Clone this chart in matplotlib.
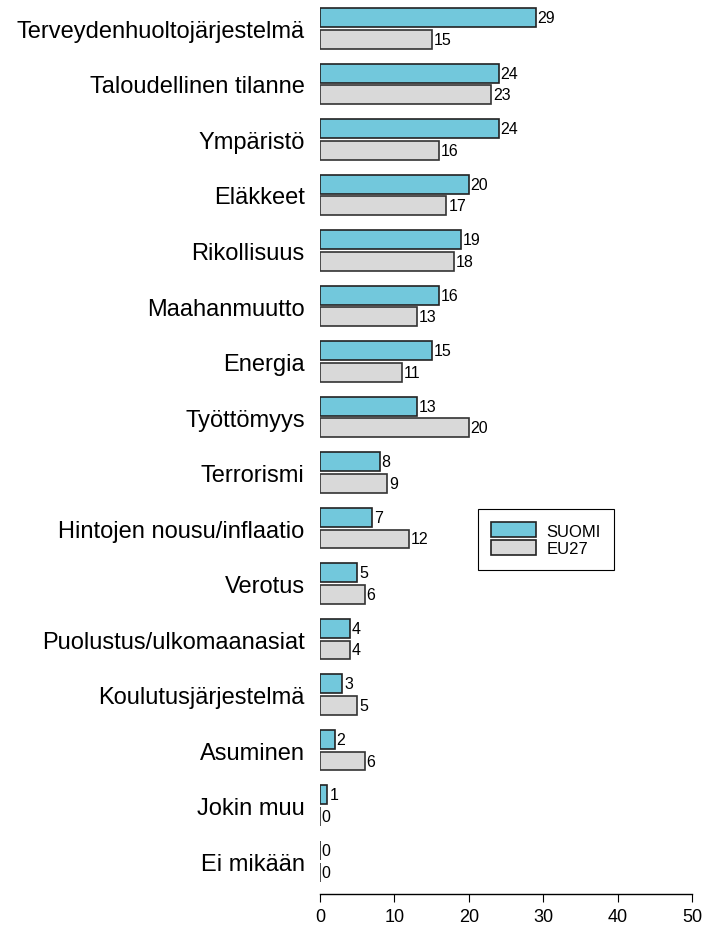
import matplotlib.pyplot as plt
import numpy as np

plt.rcParams["font.family"] = ["Liberation Sans", "DejaVu Sans"]

categories = [
    "Terveydenhuoltojärjestelmä", "Taloudellinen tilanne", "Ympäristö", "Eläkkeet",
    "Rikollisuus", "Maahanmuutto", "Energia", "Työttömyys", "Terrorismi",
    "Hintojen nousu/inflaatio", "Verotus", "Puolustus/ulkomaanasiat",
    "Koulutusjärjestelmä", "Asuminen", "Jokin muu", "Ei mikään",
]
suomi = [29, 24, 24, 20, 19, 16, 15, 13, 8, 7, 5, 4, 3, 2, 1, 0]
eu27 = [15, 23, 16, 17, 18, 13, 11, 20, 9, 12, 6, 4, 5, 6, 0, 0]
xticks = [0, 10, 20, 30, 40, 50]

C_FI = "#72C8DC"
C_EU = "#D9D9D9"

fig = plt.figure(figsize=(7.07, 9.29), dpi=100)
ax = fig.add_axes([320 / 707, 34 / 929, 372 / 707, 895 / 929])

y = np.arange(len(categories))
off = 0.195
h = 0.34
ax.barh(y - off, suomi, height=h, color=C_FI, edgecolor="#222222", linewidth=1.2, label="SUOMI")
ax.barh(y + off, eu27, height=h, color=C_EU, edgecolor="#333333", linewidth=1.2, label="EU27")

for yi, v in zip(y - off, suomi):
    ax.text(v + 0.25, yi, str(v), va="center", ha="left", fontsize=11.5)
for yi, v in zip(y + off, eu27):
    ax.text(v + 0.25, yi, str(v), va="center", ha="left", fontsize=11.5)

ax.set_xlim(0, 50)
ax.set_ylim(15.59, -0.53)
ax.set_xticks(xticks)
ax.set_xticklabels([str(t) for t in xticks], fontsize=13)
ax.set_yticks(y)
ax.set_yticklabels(categories, fontsize=17)
ax.tick_params(axis="y", length=0, pad=11)
ax.tick_params(axis="x", length=6, pad=4)

for s in ["top", "right", "left"]:
    ax.spines[s].set_visible(False)
ax.spines["bottom"].set_linewidth(1)

leg = ax.legend(loc="upper left", bbox_to_anchor=(0.425, 0.43), fontsize=12,
                fancybox=False, edgecolor="black", framealpha=1,
                handlelength=2.7, handleheight=1.0, borderpad=0.8,
                labelspacing=0.1, handletextpad=0.6, borderaxespad=0)
leg.get_frame().set_linewidth(0.8)
for p in leg.get_patches():
    p.set_edgecolor("#222222")

fig.savefig("out.png", dpi=100)
